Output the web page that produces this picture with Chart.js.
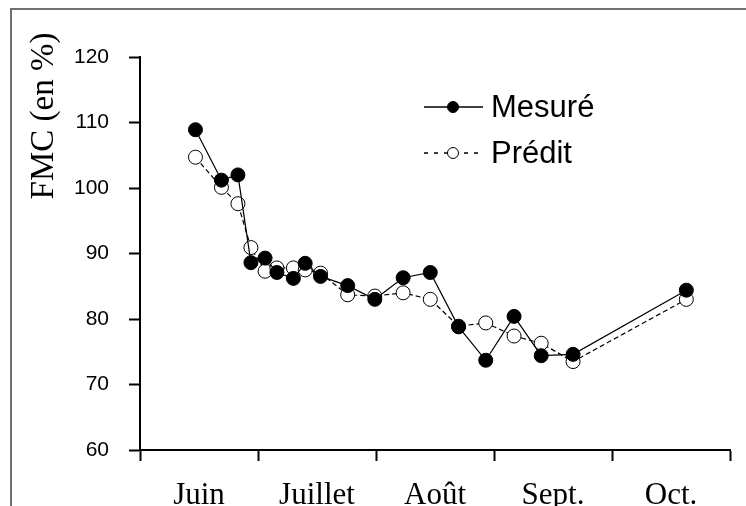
<!DOCTYPE html>
<html>
<head>
<meta charset="utf-8">
<script src="https://cdn.jsdelivr.net/npm/chart.js@4"></script>
<style>
  body { margin: 0; background: #fff; }
  #wrap { position: relative; width: 746px; height: 506px; }
  #frame { position: absolute; left: 10px; top: 8px; right: 0; bottom: 0;
           border-top: 2px solid #707070; border-left: 2px solid #707070; }
  #chart { position: absolute; left: 0; top: 0; }
</style>
</head>
<body>
<div id="wrap">
  <div id="frame"></div>
  <canvas id="chart" width="746" height="506"></canvas>
</div>
<script>
// x en mois depuis le 1er juin
const months = ['Juin', 'Juillet', 'Août', 'Sept.', 'Oct.'];
const dates = [0.47, 0.69, 0.83, 0.94, 1.06, 1.16, 1.30, 1.40, 1.53, 1.76, 1.99,
               2.23, 2.46, 2.70, 2.93, 3.17, 3.40, 3.67, 4.63];
const mesure = [108.9, 101.2, 102.0, 88.6, 89.3, 87.1, 86.2, 88.5, 86.5, 85.1, 83.0,
                86.3, 87.1, 78.8, 73.7, 80.4, 74.4, 74.6, 84.4];
const predit = [104.7, 100.1, 97.6, 90.9, 87.3, 87.8, 87.8, 87.5, 87.0, 83.7, 83.5,
                84.0, 83.0, 78.9, 79.4, 77.4, 76.3, 73.5, 83.0];
const yTicks = [60, 70, 80, 90, 100, 110, 120];
const yTitle = 'FMC (en %)';

const serif = '"Liberation Serif", "Times New Roman", serif';
const sans = '"Liberation Sans", Arial, sans-serif';

const xTickValues = [];
for (let i = 0; i <= months.length; i++) {
  xTickValues.push(i);
  if (i < months.length) xTickValues.push(i + 0.5);
}

// légende et titre Y placés à la main
const extras = {
  id: 'extras',
  afterDraw(chart) {
    const ctx = chart.ctx;
    ctx.save();
    ctx.fillStyle = '#000';
    ctx.font = '33px ' + serif;
    ctx.translate(44, 116);
    ctx.rotate(-Math.PI / 2);
    ctx.textAlign = 'center';
    ctx.textBaseline = 'middle';
    ctx.fillText(yTitle, 0, 0);
    ctx.restore();

    chart.data.datasets.forEach((ds, i) => {
      const y = 107 + i * 46;
      ctx.save();
      ctx.strokeStyle = ds.borderColor;
      ctx.lineWidth = 1.3;
      ctx.setLineDash(ds.borderDash ? [4, 6] : []);
      ctx.beginPath();
      ctx.moveTo(424, y);
      ctx.lineTo(483, y);
      ctx.stroke();
      ctx.setLineDash([]);
      ctx.beginPath();
      ctx.arc(453, y, 5.5, 0, Math.PI * 2);
      ctx.fillStyle = ds.pointBackgroundColor;
      ctx.fill();
      ctx.lineWidth = 1;
      ctx.stroke();
      ctx.fillStyle = '#000';
      ctx.font = '31px ' + sans;
      ctx.textAlign = 'left';
      ctx.textBaseline = 'middle';
      ctx.fillText(ds.label, 491, y + 1);
      ctx.restore();
    });
  }
};

new Chart(document.getElementById('chart'), {
  type: 'line',
  data: {
    datasets: [
      {
        label: 'Mesuré',
        data: dates.map((d, i) => ({ x: d, y: mesure[i] })),
        borderColor: '#000',
        borderWidth: 1.2,
        pointRadius: 7,
        pointBackgroundColor: '#000',
        pointBorderColor: '#000',
        pointBorderWidth: 1,
        tension: 0
      },
      {
        label: 'Prédit',
        data: dates.map((d, i) => ({ x: d, y: predit[i] })),
        borderColor: '#000',
        borderWidth: 1.2,
        borderDash: [5, 3],
        pointRadius: 7,
        pointBackgroundColor: '#fff',
        pointBorderColor: '#000',
        pointBorderWidth: 1,
        tension: 0
      }
    ]
  },
  options: {
    responsive: false,
    animation: false,
    layout: { padding: { top: 57, right: 16, left: 0, bottom: 0 } },
    plugins: { legend: { display: false }, tooltip: { enabled: false } },
    scales: {
      x: {
        type: 'linear',
        min: 0,
        max: months.length,
        afterBuildTicks: s => { s.ticks = xTickValues.map(v => ({ value: v })); },
        afterFit: s => { s.height = 56; },
        border: { color: '#000', width: 2 },
        grid: {
          drawOnChartArea: false,
          tickLength: 11,
          tickWidth: 2,
          tickColor: c => Number.isInteger(c.tick.value) ? '#000' : 'rgba(0,0,0,0)'
        },
        ticks: {
          autoSkip: false,
          maxRotation: 0,
          padding: 16,
          color: '#000',
          font: { family: serif, size: 31 },
          callback: v => Number.isInteger(v) ? '' : months[Math.floor(v)]
        }
      },
      y: {
        min: 60,
        max: 120,
        afterBuildTicks: s => { s.ticks = yTicks.map(v => ({ value: v })); },
        afterFit: s => { s.width = 140; },
        border: { color: '#000', width: 2 },
        grid: { drawOnChartArea: false, tickLength: 11, tickWidth: 2, tickColor: '#000' },
        ticks: {
          padding: 20,
          color: '#000',
          font: { family: sans, size: 21 }
        }
      }
    }
  },
  plugins: [extras]
});
</script>
</body>
</html>
